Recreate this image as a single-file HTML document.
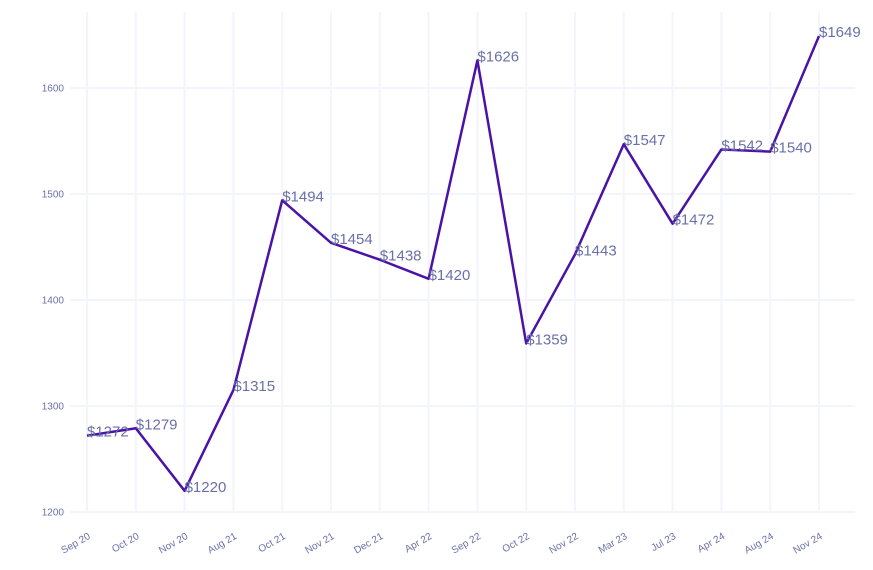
<!DOCTYPE html>
<html><head><meta charset="utf-8"><style>
body{margin:0;background:#fff;font-family:"Liberation Sans",sans-serif;}
</style></head><body>
<svg id="chart" width="873" height="565" xmlns="http://www.w3.org/2000/svg"></svg>
<script>
const categories=["Sep 20","Oct 20","Nov 20","Aug 21","Oct 21","Nov 21","Dec 21","Apr 22","Sep 22","Oct 22","Nov 22","Mar 23","Jul 23","Apr 24","Aug 24","Nov 24"];
const values=[1272,1279,1220,1315,1494,1454,1438,1420,1626,1359,1443,1547,1472,1542,1540,1649];
const yTicks=[1200,1300,1400,1500,1600];
const svg=document.getElementById('chart');
const NS='http://www.w3.org/2000/svg';
const xLeft=87,xRight=819,yTop=12,yBottom=512;
function xS(i){return xLeft+i*(xRight-xLeft)/(categories.length-1);}
function yS(v){return 512-(v-1200)*1.06;}
function mk(t,a,p){const e=document.createElementNS(NS,t);for(const k in a)e.setAttribute(k,a[k]);(p||svg).appendChild(e);return e;}
const grid=mk('g',{});


categories.forEach((c,i)=>{
  const l=mk('line',{x1:xS(i),x2:xS(i),y1:yTop,y2:yBottom,stroke:'#f4f4fc','stroke-width':2},grid);
  
  
  const t=mk('text',{x:xS(i)+4,y:538,'font-size':10,fill:'#6a70a8','text-anchor':'end',transform:`rotate(-30 ${xS(i)+4} 538)`});
  t.textContent=c;
  
  
});
yTicks.forEach(v=>{
  const l=mk('line',{x1:70,x2:855,y1:yS(v),y2:yS(v),stroke:'#f4f4fc','stroke-width':2},grid);
  
  
  const t=mk('text',{x:64,y:yS(v)+3.5,'font-size':10,fill:'#6a70a8','text-anchor':'end'});
  t.textContent=v;
  
  
});
const pts=values.map((v,i)=>xS(i)+','+yS(v)).join(' ');
const line=mk('polyline',{points:pts,fill:'none',stroke:'#4a13a6','stroke-width':2.5,'stroke-linejoin':'round'});


values.forEach((v,i)=>{
  const t=mk('text',{x:xS(i),y:yS(v)+1,'font-size':15,fill:'#6a70a8'});
  t.textContent='$'+v;
  
  
});
</script>
</body></html>
